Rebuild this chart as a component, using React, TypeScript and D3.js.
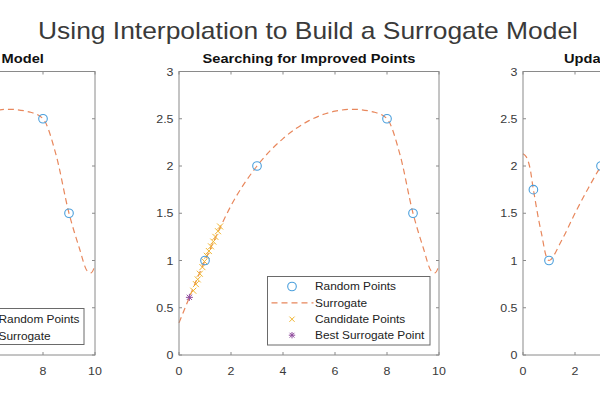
import React from "react";
import * as d3 from "d3";

// ---- data ----
const xTicks = [0, 2, 4, 6, 8, 10];
const yTicks = [0, 0.5, 1, 1.5, 2, 2.5, 3];
const yTickLabels = ["0", "0.5", "1", "1.5", "2", "2.5", "3"];

const randomX = [1, 3, 8, 9];
const randomY = [1, 2, 2.5, 1.5];

const surrogateX = [0, 0.4, 1, 1.5, 2, 3, 4, 5, 6, 6.7, 7.5, 8, 8.5, 9, 9.4, 9.7, 9.85, 10];
const surrogateY = [0.34, 0.61, 1.0, 1.3, 1.58, 2.0, 2.29, 2.48, 2.58, 2.6, 2.57, 2.5, 2.12, 1.5, 1.13, 0.89, 0.87, 0.95];

const candidateX = [0.55, 0.65, 0.72, 0.8, 0.9, 0.98, 1.07, 1.15, 1.23, 1.32, 1.4, 1.5, 1.58];
const candidateY = [0.68, 0.75, 0.8, 0.86, 0.93, 0.99, 1.05, 1.1, 1.15, 1.2, 1.25, 1.31, 1.36];

const bestX = [0.4];
const bestY = [0.61];

const updatedRandomX = [0.4, 1, 3, 8, 9];
const updatedRandomY = [1.75, 1, 2, 2.5, 1.5];

const updatedSurrogateX = [0, 0.12, 0.25, 0.4, 0.7, 1, 1.5, 2, 2.5, 3, 3.2];
const updatedSurrogateY = [2.13, 2.1, 2.0, 1.75, 1.3, 1.0, 1.22, 1.5, 1.76, 2.0, 2.08];

const mainTitle = "Using Interpolation to Build a Surrogate Model";
const panelTitles = ["Initial Surrogate Model", "Searching for Improved Points", "Updated Surrogate Model"];

// ---- styles ----
const FONT = "'Liberation Sans', Arial, Helvetica, sans-serif";
const AXIS = "#8a8a8a";
const TEXT = "#3a3a3a";
const BLUE = "#4a9fdc";
const ORANGE = "#e8875c";
const YELLOW = "#f0b530";
const PURPLE = "#8e4a9c";

const W = 260;
const TOP = 71.5;
const BOTTOM = 355;
const TICK_SX = 1.13;
const TITLE_SX = 1.22;

type Pt = [number, number];
const zip = (xs: number[], ys: number[]): Pt[] => xs.map((x, i) => [x, ys[i]]);

function T({ x, y, size, sx = 1, anchor = "start", weight = "normal", fill = TEXT, children }: any) {
  return (
    <text transform={`translate(${x},${y}) scale(${sx},1)`} textAnchor={anchor} fontSize={size} fontWeight={weight} fill={fill} fontFamily={FONT}>
      {children}
    </text>
  );
}

function Axes({ x0, children }: { x0: number; children: (x: d3.ScaleLinear<number, number>, y: d3.ScaleLinear<number, number>) => React.ReactNode }) {
  const x = d3.scaleLinear().domain([0, 10]).range([x0, x0 + W]);
  const y = d3.scaleLinear().domain([0, 3]).range([BOTTOM, TOP]);
  const tl = 3;
  return (
    <g>
      <rect x={x0} y={TOP} width={W} height={BOTTOM - TOP} fill="#fff" />
      {children(x, y)}
      <rect x={x0} y={TOP} width={W} height={BOTTOM - TOP} fill="none" stroke={AXIS} strokeWidth={1} />
      {xTicks.map((t) => (
        <g key={"x" + t}>
          <line x1={x(t)} x2={x(t)} y1={BOTTOM} y2={BOTTOM - tl} stroke={AXIS} />
          <line x1={x(t)} x2={x(t)} y1={TOP} y2={TOP + tl} stroke={AXIS} />
          <T x={x(t)} y={375} anchor="middle" size={11} sx={TICK_SX}>{t}</T>
        </g>
      ))}
      {yTicks.map((t, i) => (
        <g key={"y" + t}>
          <line x1={x0} x2={x0 + tl} y1={y(t)} y2={y(t)} stroke={AXIS} />
          <line x1={x0 + W} x2={x0 + W - tl} y1={y(t)} y2={y(t)} stroke={AXIS} />
          <T x={x0 - 5.5} y={y(t) + 4} anchor="end" size={11} sx={TICK_SX}>{yTickLabels[i]}</T>
        </g>
      ))}
    </g>
  );
}

function Circles({ pts, x, y }: { pts: Pt[]; x: any; y: any }) {
  return <g>{pts.map((p, i) => <circle key={i} cx={x(p[0])} cy={y(p[1])} r={4.3} fill="none" stroke={BLUE} strokeWidth={1.1} />)}</g>;
}

function Cross({ cx, cy, s, color }: { cx: number; cy: number; s: number; color: string }) {
  return (
    <g stroke={color} strokeWidth={1}>
      <line x1={cx - s} x2={cx + s} y1={cy - s} y2={cy + s} />
      <line x1={cx - s} x2={cx + s} y1={cy + s} y2={cy - s} />
    </g>
  );
}

function Star({ cx, cy, s, color }: { cx: number; cy: number; s: number; color: string }) {
  const d = s * 0.75;
  return (
    <g stroke={color} strokeWidth={1}>
      <line x1={cx - s} x2={cx + s} y1={cy} y2={cy} />
      <line x1={cx} x2={cx} y1={cy - s} y2={cy + s} />
      <line x1={cx - d} x2={cx + d} y1={cy - d} y2={cy + d} />
      <line x1={cx - d} x2={cx + d} y1={cy + d} y2={cy - d} />
    </g>
  );
}

function Surrogate({ pts, x, y, smooth = false }: { pts: Pt[]; x: any; y: any; smooth?: boolean }) {
  const gen = d3.line<Pt>().x((d) => x(d[0])).y((d) => y(d[1])).curve(smooth ? d3.curveCatmullRom.alpha(0.5) : d3.curveMonotoneX);
  return <path d={gen(pts) || ""} fill="none" stroke={ORANGE} strokeWidth={1.2} strokeDasharray="6,4" />;
}

export default function App() {
  const surr = zip(surrogateX, surrogateY);
  const rand = zip(randomX, randomY);
  const cand = zip(candidateX, candidateY);
  const best = zip(bestX, bestY);
  const urand = zip(updatedRandomX, updatedRandomY);
  const usurr = zip(updatedSurrogateX, updatedSurrogateY);
  const lf = 10.5;
  const lc = "#222";
  return (
    <svg width={600} height={400} style={{ position: "absolute", left: 0, top: 0, background: "#fff" }} fontFamily={FONT}>
      <rect width={600} height={400} fill="#fff" />
      <text x={308} y={39} textAnchor="middle" fontSize={24} fill={TEXT} fontFamily={FONT} textLength={540} lengthAdjust="spacingAndGlyphs">{mainTitle}</text>

      {/* Left panel */}
      <Axes x0={-165}>
        {(x, y) => (
          <g>
            <Surrogate pts={surr} x={x} y={y} />
            <Circles pts={rand} x={x} y={y} />
            <rect x={-80} y={308.5} width={164} height={36} fill="#fff" stroke="#6a6a6a" strokeWidth={1} />
            <T x={-1.5} y={323} size={lf} sx={TICK_SX} fill={lc}>Random Points</T>
            <T x={-1.5} y={340} size={lf} sx={TICK_SX} fill={lc}>Surrogate</T>
          </g>
        )}
      </Axes>
      <T x={-35} y={63} anchor="middle" size={12} weight="bold" sx={TITLE_SX} fill="#111">{panelTitles[0]}</T>

      {/* Middle panel */}
      <Axes x0={179}>
        {(x, y) => (
          <g>
            <Surrogate pts={surr} x={x} y={y} />
            {cand.map((p, i) => <Cross key={i} cx={x(p[0])} cy={y(p[1])} s={3} color={YELLOW} />)}
            <Circles pts={rand} x={x} y={y} />
            {best.map((p, i) => <Star key={i} cx={x(p[0])} cy={y(p[1])} s={3.5} color={PURPLE} />)}
            <rect x={267.5} y={276.5} width={162.5} height={68.5} fill="#fff" stroke="#6a6a6a" strokeWidth={1} />
            <circle cx={292} cy={286.5} r={4.3} fill="none" stroke={BLUE} strokeWidth={1.1} />
            <line x1={271.5} x2={313.5} y1={302.8} y2={302.8} stroke={ORANGE} strokeWidth={1.2} strokeDasharray="6,4" />
            <Cross cx={292} cy={319.2} s={2.6} color={YELLOW} />
            <Star cx={292} cy={335.2} s={3.2} color={PURPLE} />
            <T x={315} y={290.3} size={lf} sx={TICK_SX} fill={lc}>Random Points</T>
            <T x={315} y={306.6} size={lf} sx={TICK_SX} fill={lc}>Surrogate</T>
            <T x={315} y={323} size={lf} sx={TICK_SX} fill={lc}>Candidate Points</T>
            <T x={315} y={339} size={lf} sx={TICK_SX} fill={lc}>Best Surrogate Point</T>
          </g>
        )}
      </Axes>
      <T x={309} y={63} anchor="middle" size={12} weight="bold" sx={TITLE_SX} fill="#111">{panelTitles[1]}</T>

      {/* Right panel */}
      <Axes x0={523}>
        {(x, y) => (
          <g>
            <Surrogate pts={usurr} x={x} y={y} smooth />
            <Circles pts={urand} x={x} y={y} />
          </g>
        )}
      </Axes>
      <T x={653} y={63} anchor="middle" size={12} weight="bold" sx={TITLE_SX} fill="#111">{panelTitles[2]}</T>
    </svg>
  );
}
